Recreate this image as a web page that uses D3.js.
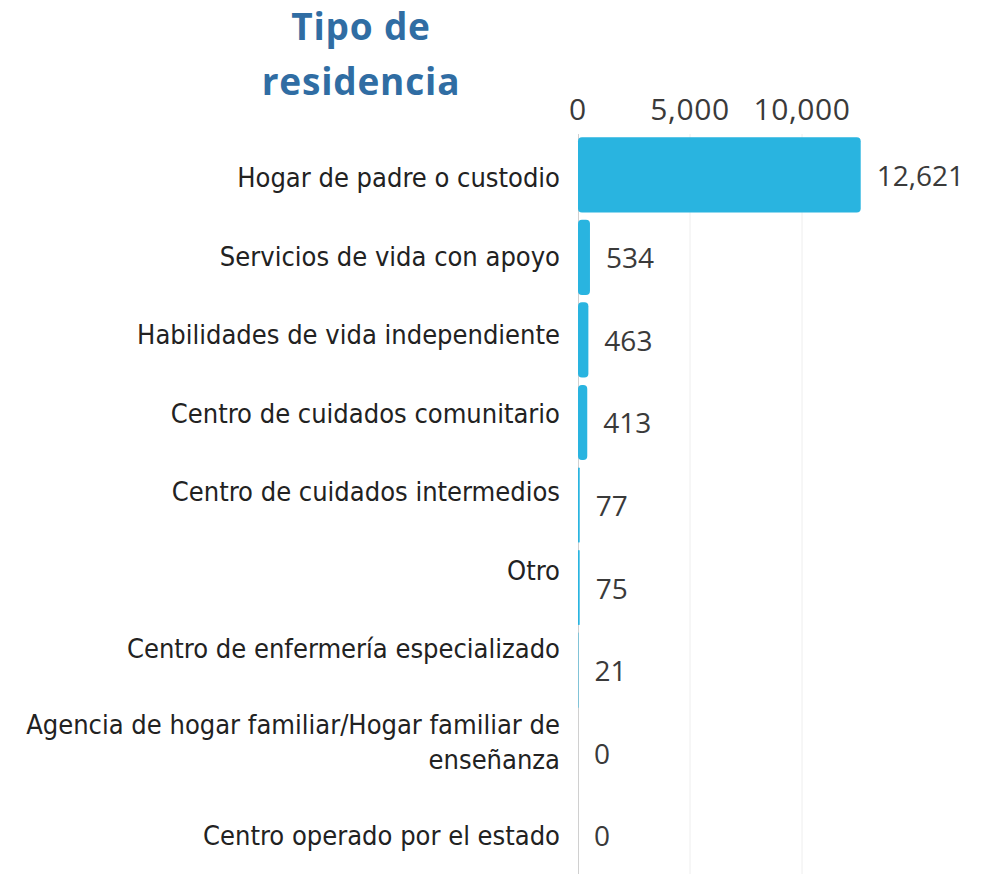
<!DOCTYPE html>
<html>
<head>
<meta charset="utf-8">
<script src="https://cdn.jsdelivr.net/npm/d3@7"></script>
<style>
  html, body { margin: 0; padding: 0; background: #fff; }
  svg { display: block; }
</style>
</head>
<body>
<svg id="chart" width="988" height="874"></svg>
<script>
// Data
const categories = [
  'Hogar de padre o custodio',
  'Servicios de vida con apoyo',
  'Habilidades de vida independiente',
  'Centro de cuidados comunitario',
  'Centro de cuidados intermedios',
  'Otro',
  'Centro de enfermería especializado',
  'Agencia de hogar familiar/Hogar familiar de enseñanza',
  'Centro operado por el estado'
];
const values = [12621, 534, 463, 413, 77, 75, 21, 0, 0];
const tickValues = [0, 5000, 10000];
const titleLines = ['Tipo de', 'residencia'];

// wrapped label lines (category text as shown in the picture)
const labelLines = {
  'Agencia de hogar familiar/Hogar familiar de enseñanza': ['Agencia de hogar familiar/Hogar familiar de', 'enseñanza']
};

const svg = d3.select('#chart');
const fmt = d3.format(',');

const x = d3.scaleLinear().domain([0, 5000]).range([578, 690]);
const y = d3.scaleBand().domain(categories).range([134, 876]).paddingInner(0.09).paddingOuter(0.04);

// title
svg.append('g')
  .selectAll('text')
  .data(titleLines)
  .join('text')
  .attr('x', 361)
  .attr('y', (d, i) => 40 + i * 55)
  .attr('text-anchor', 'middle')
  .attr('font-family', '"Open Sans", sans-serif')
  .attr('font-weight', 700)
  .attr('font-size', 37)
  .attr('letter-spacing', 0.8)
  .attr('fill', '#306da3')
  .text((d) => d);

// gridlines
svg.append('g')
  .selectAll('line')
  .data(tickValues.filter((t) => t > 0))
  .join('line')
  .attr('x1', (d) => x(d)).attr('x2', (d) => x(d))
  .attr('y1', 134).attr('y2', 874)
  .attr('stroke', '#eeeeee')
  .attr('stroke-width', 1);

// tick labels
svg.append('g')
  .selectAll('text')
  .data(tickValues)
  .join('text')
  .attr('x', (d) => x(d))
  .attr('y', 120)
  .attr('text-anchor', 'middle')
  .attr('font-family', '"Open Sans", sans-serif')
  .attr('font-size', 30)
  .attr('letter-spacing', 0.6)
  .attr('fill', '#3a3a3a')
  .text(fmt);

// zero axis line
svg.append('line')
  .attr('x1', x(0) + 0.5).attr('x2', x(0) + 0.5)
  .attr('y1', 134).attr('y2', 874)
  .attr('stroke', '#d0d0d0')
  .attr('stroke-width', 1);

// bars
svg.append('g')
  .selectAll('rect')
  .data(categories)
  .join('rect')
  .attr('x', x(0))
  .attr('y', (d) => y(d))
  .attr('width', (d, i) => x(values[i]) - x(0))
  .attr('height', y.bandwidth())
  .attr('rx', (d, i) => Math.min(4, (x(values[i]) - x(0)) / 2))
  .attr('fill', '#29b4e0');

// value labels
svg.append('g')
  .selectAll('text')
  .data(categories)
  .join('text')
  .attr('x', (d, i) => x(values[i]) + 16)
  .attr('y', (d) => y(d) + y.bandwidth() / 2 + 11)
  .attr('font-family', '"Open Sans", sans-serif')
  .attr('font-size', 28)
  .attr('fill', '#3a3a3a')
  .text((d, i) => fmt(values[i]));

// category labels: stacked blocks, taller block for wrapped text
const labelTop = 139, lineStep = 35;
let acc = labelTop;
const labelCenters = categories.map((c) => {
  const n = (labelLines[c] || [c]).length;
  const h = 49 + 29.5 * n;
  const cy = acc + h / 2;
  acc += h;
  return cy;
});

const sx = 1.04;
const cat = svg.append('g')
  .selectAll('g')
  .data(categories)
  .join('g')
  .attr('transform', (d, i) => `translate(560,${labelCenters[i]}) scale(${sx},1)`);

cat.each(function (d) {
  const lines = labelLines[d] || [d];
  d3.select(this)
    .append('text')
    .attr('text-anchor', 'end')
    .attr('font-family', '"DejaVu Sans Condensed", "DejaVu Sans", sans-serif')
    .attr('font-stretch', 'condensed')
    .attr('font-size', 26)
    .attr('fill', '#222')
    .selectAll('tspan')
    .data(lines)
    .join('tspan')
    .attr('x', 0)
    .attr('y', (l, i) => (i - (lines.length - 1) / 2) * lineStep + 9)
    .text((l) => l);
});
</script>
</body>
</html>
